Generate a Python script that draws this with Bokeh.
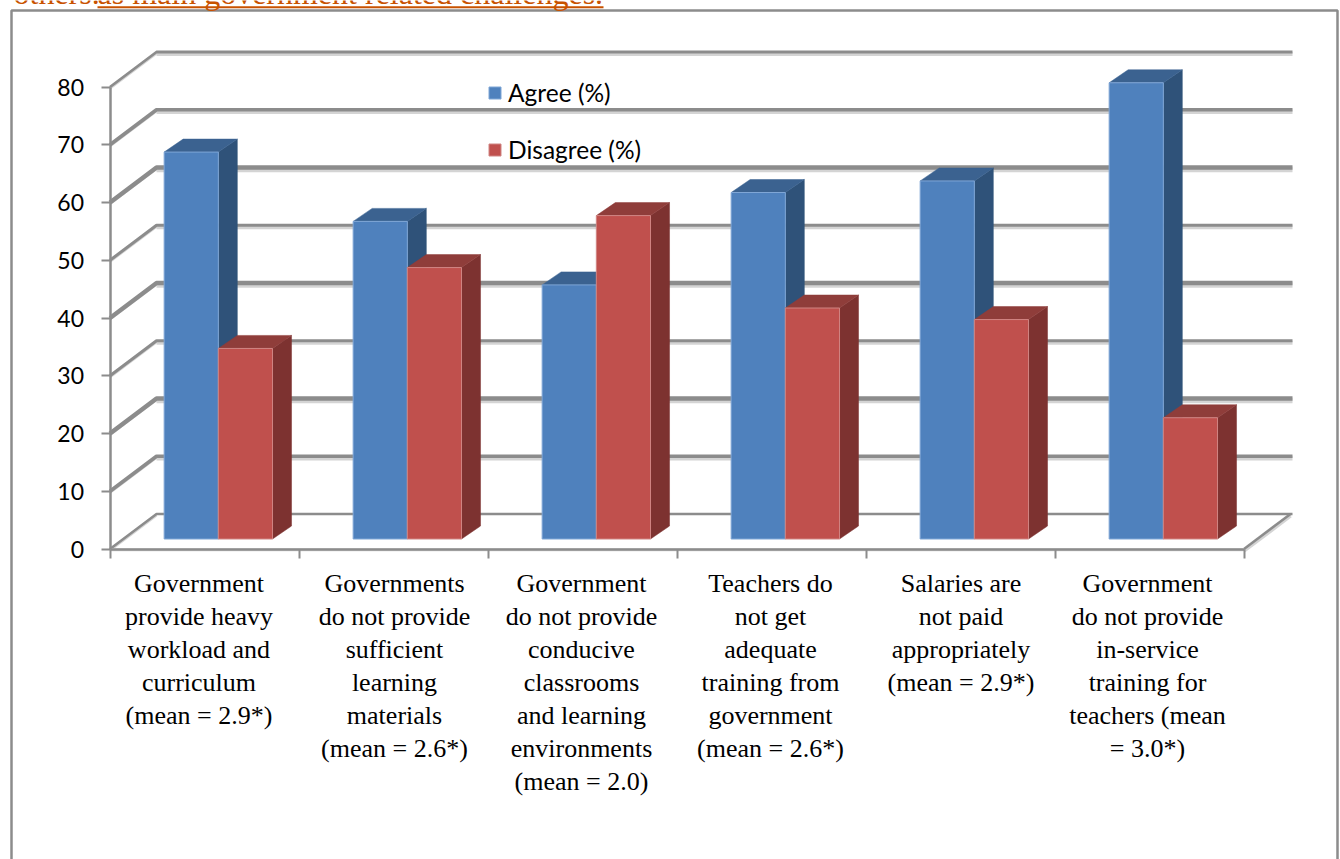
from bokeh.plotting import figure
from bokeh.models import Range1d, FixedTicker, Legend, LegendItem, Label
from bokeh.core.properties import value
from bokeh.embed import file_html
from bokeh.resources import INLINE

# ---- data ----
categories = [
    "Government\nprovide heavy\nworkload and\ncurriculum\n(mean = 2.9*)",
    "Governments\ndo not provide\nsufficient\nlearning\nmaterials\n(mean = 2.6*)",
    "Government\ndo not provide\nconducive\nclassrooms\nand learning\nenvironments\n(mean = 2.0)",
    "Teachers do\nnot get\nadequate\ntraining from\ngovernment\n(mean = 2.6*)",
    "Salaries are\nnot paid\nappropriately\n(mean = 2.9*)",
    "Government\ndo not provide\nin-service\ntraining for\nteachers (mean\n= 3.0*)",
]
agree = [67, 55, 44, 60, 62, 79]
disagree = [33, 47, 56, 40, 38, 21]
y_ticks = [0, 10, 20, 30, 40, 50, 60, 70, 80]
grid_widths = [3, 3.7, 4.5, 3, 4.3, 3, 4.5, 3.7, 2.8]
label_nudge = [-5.5, 1, -1, -1, 0.5, -2]

# ---- geometry (pixel scale of the chart) ----
W, H = 1340, 859
X0, Y0 = 109.5, 548.5
SX, SY = 189.0, 5.775
def X(px): return (px - X0) / SX
def Y(py): return (Y0 - py) / SY

GRAY, SHADOW = "#8C8C8C", "#D4D4D4"
BLUE, BLUE_S, BLUE_T, BLUE_E = "#4F81BD", "#2F5279", "#3B6290", "#7FA6D6"
RED, RED_S, RED_T, RED_E = "#C0504D", "#7D3230", "#8F3D3A", "#D08583"

p = figure(width=W, height=H, output_backend="svg", toolbar_location=None,
           x_range=Range1d(X(0), X(W)), y_range=Range1d(Y(H), Y(0)),
           min_border=0, outline_line_color=None, background_fill_color="white",
           border_fill_color="white")
p.styles = {"position": "absolute", "left": "0px", "top": "0px"}
p.grid.visible = False

# outer frame
fx0, fx1, fy0, fy1 = X(11), X(1337), Y(10), Y(H + 10)
p.line([fx0, fx0, fx1, fx1], [fy1, fy0, fy0, fy1], line_color=GRAY, line_width=2.5)

# walls: grid lines
wall_dx, wall_dy = 46.5 / SX, 35 / SY
wall_end = X(1292)
for v, w in zip(y_ticks, grid_widths):
    sh = 2 / SY
    if v > 0:
        p.line([wall_dx, wall_end], [v + wall_dy - sh, v + wall_dy - sh], line_color=SHADOW, line_width=w + 1)
    p.line([0, wall_dx], [v - sh / 2, v + wall_dy - sh / 2], line_color=SHADOW, line_width=3)
    p.line([0, wall_dx, wall_end], [v, v + wall_dy, v + wall_dy], line_color=GRAY, line_width=w if v else 2.5,
           line_join="round")
# floor
p.line([6, 6 + wall_dx], [0 - 0.3, wall_dy - 0.3], line_color=SHADOW, line_width=4)
p.line([6, 6 + wall_dx], [0, wall_dy], line_color=GRAY, line_width=2.5)
p.line([0, 6], [-0.12, -0.12], line_color=SHADOW, line_width=3)

# axes
yaxis = p.yaxis[0]
yaxis.fixed_location = 0
yaxis.bounds = (0, 80)
yaxis.ticker = FixedTicker(ticks=y_ticks)
yaxis.axis_line_color = GRAY
yaxis.axis_line_width = 2.5
yaxis.major_tick_line_color = GRAY
yaxis.major_tick_line_width = 2
yaxis.major_tick_in = 0
yaxis.major_tick_out = 9
yaxis.minor_tick_line_color = None
yaxis.major_label_text_font = "Lato"
yaxis.major_label_text_font_size = "23px"
yaxis.major_label_text_color = "#000000"
yaxis.major_label_standoff = 17

xaxis = p.xaxis[0]
xaxis.fixed_location = 0
xaxis.bounds = (0, 6)
xaxis.ticker = FixedTicker(ticks=[0, 1, 2, 3, 4, 5, 6])
xaxis.axis_line_color = GRAY
xaxis.axis_line_width = 2.5
xaxis.major_tick_line_color = GRAY
xaxis.major_tick_line_width = 2
xaxis.major_tick_in = 0
xaxis.major_tick_out = 9
xaxis.minor_tick_line_color = None
xaxis.major_label_overrides = {i: "" for i in range(7)}

# 3-D bars
gap, bw, step = 0.2865, 0.2867, 1.0
base = 10 / SY
dx, dy = 19 / SX, 13 / SY

def bars(vals, offset, front, side, top, edge):
    xl = [i * step + gap + offset for i in range(len(vals))]
    xr = [a + bw for a in xl]
    tops = [v + base for v in vals]
    p.patches([[r, r + dx, r + dx, r] for r in xr],
              [[base, base + dy, t + dy, t] for t in tops],
              fill_color=side, line_color=side, line_width=0.5)
    p.patches([[l, l + dx, r + dx, r] for l, r in zip(xl, xr)],
              [[t, t + dy, t + dy, t] for t in tops],
              fill_color=top, line_color=top, line_width=0.5)
    return p.quad(left=xl, right=xr, bottom=[base] * len(vals), top=tops,
                  fill_color=front, line_color=edge, line_width=1)

r_agree = bars(agree, 0, BLUE, BLUE_S, BLUE_T, BLUE_E)
r_disagree = bars(disagree, bw, RED, RED_S, RED_T, RED_E)

# category labels
p.text(x=[i + 0.5 + n / SX for i, n in enumerate(label_nudge)], y=[Y(568)] * 6, text=categories,
       text_font=value("Liberation Serif"), text_font_size="26px", text_color="#000000",
       text_align="center", text_baseline="top", text_line_height=1.142)

# legend
legend = Legend(items=[LegendItem(label="Agree (%)", renderers=[r_agree]),
                       LegendItem(label="Disagree (%)", renderers=[r_disagree])],
                location=(487, H - 164), orientation="vertical", spacing=28,
                glyph_width=15, glyph_height=15, label_standoff=6, padding=0, margin=0,
                border_line_color=None, background_fill_alpha=0,
                label_text_font="Lato", label_text_font_size="24.5px", label_text_color="#000000")
p.add_layout(legend, "center")

# clipped heading above the chart
ORANGE = "#C85200"
p.add_layout(Label(x=13, y=H + 8, x_units="screen", y_units="screen", text="others.",
                   text_font="Liberation Serif", text_font_size="32px", text_color=ORANGE,
                   text_baseline="alphabetic"))
p.add_layout(Label(x=97, y=H + 8, x_units="screen", y_units="screen", text="as main government related challenges.",
                   text_font="Liberation Serif", text_font_size="32px", text_color=ORANGE,
                   text_baseline="alphabetic"))
p.line([X(97), X(603)], [Y(6.7), Y(6.7)], line_color=ORANGE, line_width=2)

open("out.html", "w").write(file_html(p, INLINE))
